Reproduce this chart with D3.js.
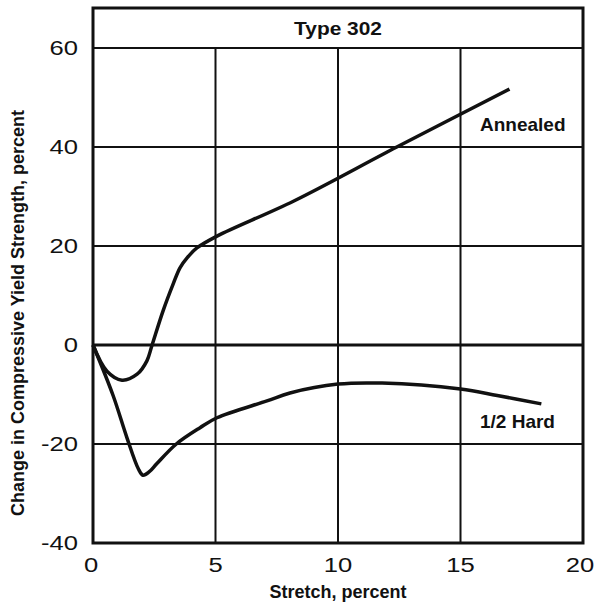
<!DOCTYPE html>
<html lang="en">
<head>
    <title>Type 302 - Change in Compressive Yield Strength</title>
    <script src="https://d3js.org/d3.v7.min.js"></script>
    <style>
        body {
            margin: 0;
            padding: 0;
            background: white;
            font-family: 'Liberation Sans', Arial, sans-serif;
        }
        .tick-label {
            font-size: 20px;
            fill: #111;
        }
        .axis-title {
            font-size: 18px;
            font-weight: bold;
            fill: #111;
        }
        .curve-label {
            font-size: 19px;
            font-weight: bold;
            fill: #111;
        }
    </style>
</head>
<body>
    <div id="chart"></div>

    <script>
        // stretch (%) vs change in compressive yield strength (%)
        const annealedX = [0, 0.57, 1.18, 1.8, 2.2, 2.4, 2.86, 3.27, 3.55, 3.84, 4.24, 5.06, 8.2, 12.4, 17.0];
        const annealedY = [0, -5.3, -7.1, -5.9, -3.2, -0.2, 6.9, 12.3, 15.6, 17.6, 19.6, 22.0, 29.1, 40.0, 51.7];

        const halfHardX = [0, 0.82, 1.39, 1.85, 2.04, 2.3, 2.6, 3.4, 4.37, 5.06, 7.1, 8.04, 10, 11.8, 15, 16.5, 18.3];
        const halfHardY = [0, -10.2, -18.8, -25, -26.3, -25.6, -24, -20, -16.7, -14.7, -11.3, -9.7, -7.9, -7.7, -8.9, -10.2, -11.9];

        const xTicks = [0, 5, 10, 15, 20];
        const xTickLabels = ["0", "5", "10", "15", "20"];
        const yTicks = [-40, -20, 0, 20, 40, 60];
        const yTickLabels = ["-40", "-20", "0", "20", "40", "60"];

        const chartTitle = "Type 302";
        const xTitle = "Stretch, percent";
        const yTitle = "Change in Compressive Yield Strength, percent";
        const seriesNames = ["Annealed", "1/2 Hard"];

        const W = 595, H = 606;
        const plotLeft = 93, plotRight = 583, plotBottom = 543, plotTop = 48; // 60 line = plotTop
        const frameTop = 8; // title band above the 60 line
        const wide = 1.28; // the scanned lettering is wider than Liberation Sans

        const svg = d3.select("#chart")
            .append("svg")
            .attr("width", W)
            .attr("height", H);

        const x = d3.scaleLinear().domain([0, 20]).range([plotLeft, plotRight]);
        const y = d3.scaleLinear().domain([-40, 60]).range([plotBottom, plotTop]);

        // gridlines
        svg.append("g")
            .selectAll("line")
            .data(xTicks.slice(1, -1))
            .enter()
            .append("line")
            .attr("x1", d => x(d)).attr("x2", d => x(d))
            .attr("y1", y(-40)).attr("y2", y(60))
            .attr("stroke", "#111")
            .attr("stroke-width", 2);

        svg.append("g")
            .selectAll("line")
            .data(yTicks.slice(1))
            .enter()
            .append("line")
            .attr("x1", x(0)).attr("x2", x(20))
            .attr("y1", d => y(d)).attr("y2", d => y(d))
            .attr("stroke", "#111")
            .attr("stroke-width", d => d === 0 ? 3 : 2);

        // frame
        svg.append("rect")
            .attr("x", x(0))
            .attr("y", frameTop)
            .attr("width", x(20) - x(0))
            .attr("height", y(-40) - frameTop)
            .attr("fill", "none")
            .attr("stroke", "#111")
            .attr("stroke-width", 3);

        // title band text
        svg.append("text")
            .attr("class", "curve-label")
            .attr("transform", `translate(${(x(0) + x(20)) / 2},${(frameTop + y(60)) / 2}) scale(1.1,1)`)
            .attr("dy", "0.36em")
            .attr("text-anchor", "middle")
            .text(chartTitle);

        // tick labels
        svg.append("g")
            .selectAll("text")
            .data(yTicks)
            .enter()
            .append("text")
            .attr("class", "tick-label")
            .attr("transform", d => `translate(${x(0) - 15},${y(d)}) scale(${wide},1)`)
            .attr("dy", "0.36em")
            .attr("text-anchor", "end")
            .text((d, i) => yTickLabels[i]);

        // first and last labels sit a little inward, as in the original
        const xNudge = d => d === 0 ? -2 : (d === 20 ? -3 : 0);
        svg.append("g")
            .selectAll("text")
            .data(xTicks)
            .enter()
            .append("text")
            .attr("class", "tick-label")
            .attr("transform", d => `translate(${x(d) + xNudge(d)},572) scale(${wide},1)`)
            .attr("text-anchor", "middle")
            .text((d, i) => xTickLabels[i]);

        // axis titles
        svg.append("text")
            .attr("class", "axis-title")
            .attr("x", (x(0) + x(20)) / 2)
            .attr("y", 598)
            .attr("text-anchor", "middle")
            .text(xTitle);

        svg.append("text")
            .attr("class", "axis-title")
            .attr("transform", "rotate(-90)")
            .attr("x", -313)
            .attr("y", 18)
            .attr("dy", "0.36em")
            .attr("text-anchor", "middle")
            .text(yTitle);

        // curves
        const line = d3.line()
            .x(d => x(d[0]))
            .y(d => y(d[1]))
            .curve(d3.curveCatmullRom.alpha(0.5));

        const series = [
            annealedX.map((v, i) => [v, annealedY[i]]),
            halfHardX.map((v, i) => [v, halfHardY[i]])
        ];

        svg.append("g")
            .selectAll("path")
            .data(series)
            .enter()
            .append("path")
            .attr("d", line)
            .attr("fill", "none")
            .attr("stroke", "#111")
            .attr("stroke-width", 3.5)
            .attr("stroke-linejoin", "round")
            .attr("stroke-linecap", "butt");

        // curve labels
        svg.append("text")
            .attr("class", "curve-label")
            .attr("x", 480)
            .attr("y", 131)
            .text(seriesNames[0]);

        svg.append("text")
            .attr("class", "curve-label")
            .attr("x", 480)
            .attr("y", 428)
            .text(seriesNames[1]);
    </script>
</body>
</html>
